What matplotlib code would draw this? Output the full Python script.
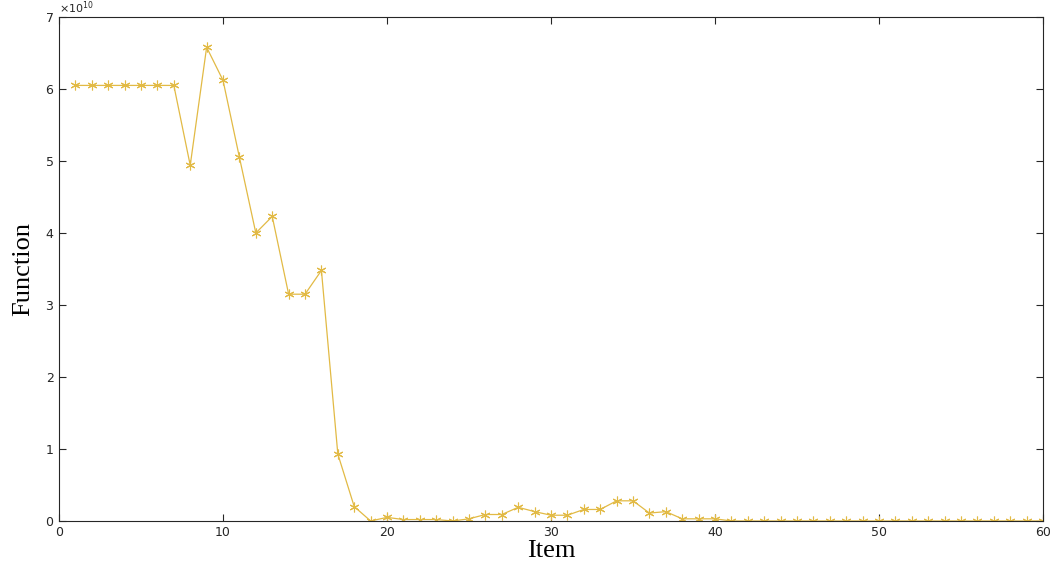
import numpy as np
import matplotlib.pyplot as plt
from matplotlib.ticker import ScalarFormatter

items = np.arange(1, 61)
values = [6.05, 6.05, 6.05, 6.05, 6.05, 6.05, 6.05, 4.94, 6.58, 6.12,
          5.05, 4.00, 4.23, 3.15, 3.15, 3.48, 0.93, 0.20, 0.00, 0.05,
          0.02, 0.02, 0.02, 0.00, 0.03, 0.09, 0.09, 0.19, 0.13, 0.08,
          0.08, 0.16, 0.16, 0.28, 0.28, 0.11, 0.13, 0.03, 0.03, 0.03,
          0.00, 0.00, 0.00, 0.00, 0.00, 0.00, 0.00, 0.00, 0.00, 0.00,
          0.00, 0.00, 0.00, 0.00, 0.00, 0.00, 0.00, 0.00, 0.00, 0.00]
values = np.array(values) * 1e10

fig = plt.figure(figsize=(10.56, 5.71), dpi=100)
ax = fig.add_axes([0.0559, 0.0876, 0.9318, 0.8826])

# asterisk markers like matlab '*'
ax.plot(items, values, color='#E2BA45', linewidth=0.9, marker=(6, 2, 0),
        markersize=7, markeredgewidth=0.8)

ax.set_xlim(0, 60)
ax.set_ylim(0, 7e10)
ax.set_xticks(range(0, 61, 10))
ax.set_yticks(np.arange(0, 8) * 1e10)

fmt = ScalarFormatter(useMathText=True)
fmt.set_powerlimits((0, 0))
ax.yaxis.set_major_formatter(fmt)
ax.yaxis.get_offset_text().set_fontsize(8)
ax.yaxis.get_offset_text().set_color('#262626')

ax.tick_params(direction='in', top=True, right=True, labelsize=9,
               colors='#262626', length=5, width=0.8)
for s in ax.spines.values():
    s.set_color('#262626')
    s.set_linewidth(0.8)

ax.set_xlabel('Item', fontfamily='Liberation Serif', fontsize=19, labelpad=1)
ax.set_ylabel('Function', fontfamily='Liberation Serif', fontsize=19, labelpad=8)

plt.savefig('out.png', dpi=100)
